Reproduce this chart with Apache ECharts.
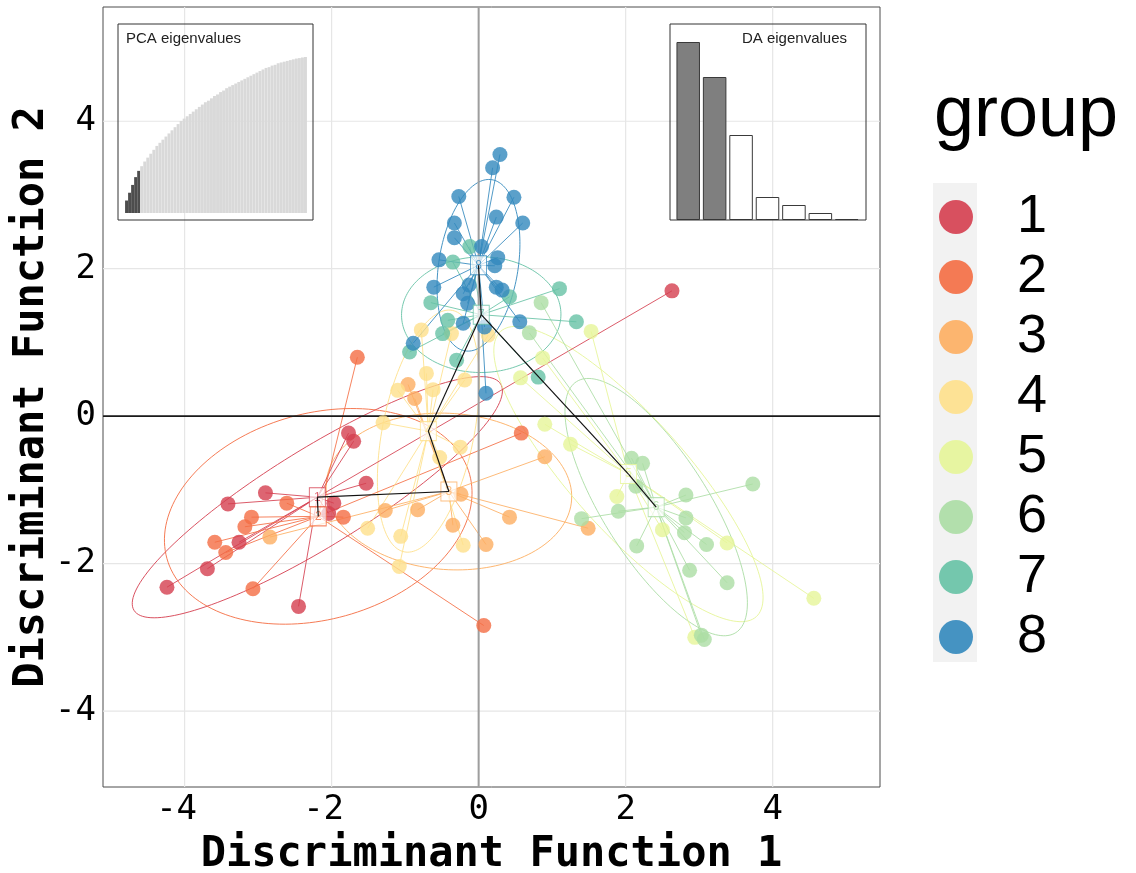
<!DOCTYPE html>
<html>
<head>
<meta charset="utf-8">
<script src="https://cdn.jsdelivr.net/npm/echarts@6/dist/echarts.min.js"></script>
<style>
  html, body { margin: 0; padding: 0; background: #ffffff; }
  #chart { width: 1136px; height: 873px; }
</style>
</head>
<body>
<div id="chart"></div>
<script>
// ---- data -------------------------------------------------------------
const groups = ['1', '2', '3', '4', '5', '6', '7', '8'];
const groupColors = ['#D53E4F', '#F46D43', '#FDAE61', '#FEE08B', '#E6F598', '#ABDDA4', '#66C2A5', '#3288BD'];

// individual scores on discriminant functions 1 and 2, one list per group
const group1 = [[2.63, 1.70], [-1.77, -0.23], [-1.70, -0.34], [-1.53, -0.91], [-2.90, -1.04], [-3.41, -1.19],
  [-1.97, -1.18], [-2.04, -1.32], [-3.26, -1.71], [-3.69, -2.07], [-4.24, -2.32], [-2.45, -2.58]];
const group2 = [[-1.65, 0.80], [0.58, -0.23], [-2.61, -1.18], [-1.84, -1.37], [-3.09, -1.37], [-3.18, -1.50],
  [-3.59, -1.71], [-3.44, -1.85], [-3.07, -2.34], [0.07, -2.84]];
const group3 = [[-0.96, 0.43], [-0.87, 0.24], [0.90, -0.55], [-0.24, -1.06], [-1.27, -1.28], [-0.83, -1.27],
  [0.42, -1.37], [-0.35, -1.48], [0.10, -1.74], [1.49, -1.52], [-2.84, -1.64]];
const group4 = [[-0.78, 1.17], [-0.37, 1.12], [0.13, 1.10], [-0.71, 0.58], [-0.19, 0.49], [-1.10, 0.35],
  [-0.62, 0.36], [-1.30, -0.09], [-0.25, -0.42], [-0.53, -0.56], [-1.51, -1.52], [-1.06, -1.63],
  [-0.21, -1.75], [-1.08, -2.04]];
const group5 = [[1.53, 1.15], [0.87, 0.79], [0.57, 0.52], [0.90, -0.11], [1.25, -0.38], [1.88, -1.09],
  [2.50, -1.54], [3.38, -1.72], [4.56, -2.47], [2.94, -3.00]];
const group6 = [[0.85, 1.54], [0.69, 1.13], [2.08, -0.57], [2.23, -0.64], [2.14, -0.95], [3.73, -0.92],
  [2.82, -1.07], [1.90, -1.29], [1.40, -1.39], [2.82, -1.38], [2.80, -1.58], [3.10, -1.74],
  [2.15, -1.76], [2.87, -2.09], [3.38, -2.26], [3.07, -3.03], [3.03, -2.97]];
const group7 = [[-0.12, 2.30], [-0.35, 2.09], [1.10, 1.73], [-0.65, 1.54], [0.42, 1.62], [1.33, 1.28],
  [-0.42, 1.30], [-0.49, 1.12], [-0.94, 0.87], [-0.30, 0.76], [0.81, 0.53]];
const group8 = [[0.29, 3.55], [0.19, 3.37], [-0.27, 2.98], [0.48, 2.97], [0.24, 2.70], [-0.33, 2.62],
  [0.60, 2.62], [-0.33, 2.42], [0.04, 2.30], [-0.54, 2.12], [0.26, 2.15], [0.22, 2.04],
  [-0.61, 1.75], [-0.13, 1.78], [-0.21, 1.66], [-0.15, 1.53], [0.24, 1.75], [0.32, 1.71],
  [0.56, 1.28], [-0.21, 1.26], [0.08, 1.21], [-0.89, 0.99], [0.10, 0.31]];
const groupPoints = [group1, group2, group3, group4, group5, group6, group7, group8];

// minimum spanning tree between group centroids (1-based group ids)
const mstEdges = [[1, 2], [1, 3], [3, 4], [4, 7], [7, 5], [5, 6], [7, 8]];

// axes
const tickValues = [-4, -2, 0, 2, 4];
const xRange = [-5.11, 5.46];
const yRange = [-5.03, 5.55];

// inset: cumulated variance of retained / discarded PCs
const pcaCumVar = [8, 13, 18, 23, 27, 30, 33, 35.5, 38, 40.5, 43, 45, 47, 49, 51, 53, 55, 57, 59, 60.5,
  62, 63.5, 65, 66.5, 68, 69.5, 71, 72, 73.5, 75, 76, 77.5, 78.5, 80, 81, 82, 83, 84, 85, 86,
  87, 88, 89, 90, 91, 92, 93, 93.5, 94.5, 95, 96, 96.5, 97, 97.5, 98, 98.5, 99, 99.3, 99.7, 100];
const pcaRetained = 5;
// inset: discriminant analysis eigenvalues
const daEigenvalues = [178, 143, 85, 23, 15, 7, 1];
const daRetained = 2;

// ---- helpers ----------------------------------------------------------
const ELLIPSE_SCALE = 1.5;

function groupStats(pts) {
  const n = pts.length;
  let mx = 0, my = 0;
  pts.forEach(p => { mx += p[0]; my += p[1]; });
  mx /= n; my /= n;
  let vx = 0, vy = 0, cxy = 0;
  pts.forEach(p => {
    const dx = p[0] - mx, dy = p[1] - my;
    vx += dx * dx; vy += dy * dy; cxy += dx * dy;
  });
  vx /= n; vy /= n; cxy /= n;
  const tr = vx + vy, det = vx * vy - cxy * cxy;
  const disc = Math.sqrt(Math.max(tr * tr / 4 - det, 0));
  const l1 = tr / 2 + disc, l2 = Math.max(tr / 2 - disc, 0);
  let theta;
  if (Math.abs(cxy) < 1e-12) theta = vx >= vy ? 0 : Math.PI / 2;
  else theta = Math.atan2(l1 - vx, cxy);
  return { mx, my, a: ELLIPSE_SCALE * Math.sqrt(l1), b: ELLIPSE_SCALE * Math.sqrt(l2), theta };
}

const stats = groupPoints.map(groupStats);
const centroids = stats.map(s => [s.mx, s.my]);

// ---- chart ------------------------------------------------------------
const chart = echarts.init(document.getElementById('chart'), null, { renderer: 'canvas' });
const monoFont = 'DejaVu Sans Mono';
const sansFont = 'Liberation Sans, Arial, sans-serif';

const series = [];

// reference grid lines
series.push({
  type: 'custom', name: 'gridlines', xAxisIndex: 0, yAxisIndex: 0, z: 1, silent: true,
  data: tickValues.map(v => [v, v]),
  renderItem(params, api) {
    const cs = params.coordSys;
    const v = api.value(0);
    const px = api.coord([v, 0])[0];
    const py = api.coord([0, v])[1];
    const style = { stroke: '#e6e6e6', lineWidth: 1.2 };
    return {
      type: 'group', children: [
        { type: 'line', shape: { x1: px, y1: cs.y, x2: px, y2: cs.y + cs.height }, style },
        { type: 'line', shape: { x1: cs.x, y1: py, x2: cs.x + cs.width, y2: py }, style }
      ]
    };
  }
});

// inertia ellipses
series.push({
  type: 'custom', name: 'ellipses', xAxisIndex: 0, yAxisIndex: 0, z: 2, silent: true,
  data: groups.map((g, i) => [i, 0]),
  renderItem(params, api) {
    const gi = api.value(0);
    const s = stats[gi];
    const pts = [];
    const steps = 160;
    for (let k = 0; k <= steps; k++) {
      const t = 2 * Math.PI * k / steps;
      const dx = s.a * Math.cos(t), dy = s.b * Math.sin(t);
      const x = s.mx + dx * Math.cos(s.theta) - dy * Math.sin(s.theta);
      const y = s.my + dx * Math.sin(s.theta) + dy * Math.cos(s.theta);
      pts.push(api.coord([x, y]));
    }
    return { type: 'polyline', shape: { points: pts }, style: { stroke: groupColors[gi], lineWidth: 1, fill: null, opacity: 0.9 } };
  }
});

// stars: centroid to each individual
series.push({
  type: 'custom', name: 'stars', xAxisIndex: 0, yAxisIndex: 0, z: 3, silent: true,
  data: groups.map((g, i) => [i, 0]),
  renderItem(params, api) {
    const gi = api.value(0);
    const c = api.coord(centroids[gi]);
    return {
      type: 'group',
      children: groupPoints[gi].map(p => {
        const q = api.coord(p);
        return { type: 'line', shape: { x1: c[0], y1: c[1], x2: q[0], y2: q[1] }, style: { stroke: groupColors[gi], lineWidth: 1, opacity: 0.85 } };
      })
    };
  }
});

// zero axes
series.push({
  type: 'custom', name: 'zero', xAxisIndex: 0, yAxisIndex: 0, z: 4, silent: true,
  data: [[0, 0]],
  renderItem(params, api) {
    const cs = params.coordSys;
    const o = api.coord([0, 0]);
    return {
      type: 'group', children: [
        { type: 'line', shape: { x1: o[0], y1: cs.y, x2: o[0], y2: cs.y + cs.height }, style: { stroke: '#9e9e9e', lineWidth: 2 } },
        { type: 'line', shape: { x1: cs.x, y1: o[1], x2: cs.x + cs.width, y2: o[1] }, style: { stroke: '#1a1a1a', lineWidth: 1.6 } }
      ]
    };
  }
});

// individuals
groups.forEach((g, i) => {
  series.push({
    type: 'scatter', name: g, xAxisIndex: 0, yAxisIndex: 0, z: 5,
    data: groupPoints[i], symbol: 'circle', symbolSize: 15,
    itemStyle: { color: groupColors[i], opacity: 0.8 }
  });
});

// centroid labels
series.push({
  type: 'scatter', name: 'centroids', xAxisIndex: 0, yAxisIndex: 0, z: 6, silent: true,
  symbol: 'rect', symbolSize: [16, 19],
  data: groups.map((g, i) => ({
    value: centroids[i],
    itemStyle: { color: 'rgba(255,255,255,0.85)', borderColor: groupColors[i], borderWidth: 1 },
    label: { color: groupColors[i] }
  })),
  label: { show: true, position: 'inside', formatter: p => groups[p.dataIndex], fontSize: 12, fontFamily: sansFont }
});

// minimum spanning tree
series.push({
  type: 'custom', name: 'mst', xAxisIndex: 0, yAxisIndex: 0, z: 7, silent: true,
  data: mstEdges.map(e => [e[0], e[1]]),
  renderItem(params, api) {
    const a = api.coord(centroids[api.value(0) - 1]);
    const b = api.coord(centroids[api.value(1) - 1]);
    return { type: 'line', shape: { x1: a[0], y1: a[1], x2: b[0], y2: b[1] }, style: { stroke: '#111', lineWidth: 1.2 } };
  }
});

// PCA eigenvalue inset
series.push({
  type: 'bar', name: 'PCA', xAxisIndex: 1, yAxisIndex: 1, z: 8, silent: true,
  data: pcaCumVar, barCategoryGap: '4%',
  itemStyle: { color: p => (p.dataIndex < pcaRetained ? '#4d4d4d' : '#d9d9d9') }
});

// DA eigenvalue inset
series.push({
  type: 'bar', name: 'DA', xAxisIndex: 2, yAxisIndex: 2, z: 8, silent: true,
  data: daEigenvalues, barCategoryGap: '11%',
  itemStyle: {
    color: p => (p.dataIndex < daRetained ? '#7f7f7f' : '#ffffff'),
    borderColor: '#3a3a3a', borderWidth: 1
  }
});

// legend drawn as graphic elements
const legendGraphics = [
  { type: 'rect', shape: { x: 933, y: 183, width: 44, height: 479 }, style: { fill: '#f2f2f2' }, z: 10 },
  { type: 'text', x: 934, y: 116, style: { text: 'group', font: '72px ' + sansFont, fill: '#000', verticalAlign: 'middle', textAlign: 'left' }, z: 10 }
];
groups.forEach((g, i) => {
  const cy = 217 + i * 60;
  legendGraphics.push({ type: 'circle', shape: { cx: 956, cy, r: 17 }, style: { fill: groupColors[i], opacity: 0.9 }, z: 11 });
  legendGraphics.push({ type: 'text', x: 1017, y: cy, style: { text: g, font: '54px ' + sansFont, fill: '#000', verticalAlign: 'middle', textAlign: 'left' }, z: 11 });
});

// tick labels: negative values sit slightly left of their grid line
const tickRich = { neg: { fontFamily: monoFont, fontSize: 34, color: '#000', padding: [0, 16, 0, 0] } };
const xTickFormatter = v => (v < 0 ? '{neg|' + v + '}' : String(v));

const option = {
  backgroundColor: '#ffffff',
  animation: false,
  grid: [
    { left: 103, top: 7, width: 777, height: 780, show: true, borderColor: '#4d4d4d', borderWidth: 1, backgroundColor: 'transparent', containLabel: false, outerBoundsMode: 'none' },
    { left: 125, top: 57, width: 182, height: 156, containLabel: false, outerBoundsMode: 'none' },
    { left: 675, top: 42, width: 185, height: 178, containLabel: false, outerBoundsMode: 'none' }
  ],
  xAxis: [
    {
      gridIndex: 0, type: 'value', min: xRange[0], max: xRange[1],
      splitLine: { show: false }, axisLine: { show: false }, axisTick: { show: false },
      axisLabel: { customValues: tickValues, formatter: xTickFormatter, rich: tickRich, fontFamily: monoFont, fontSize: 34, color: '#000', margin: 6 },
      name: 'Discriminant Function 1', nameLocation: 'middle', nameGap: 47, nameMoveOverlap: false,
      nameTextStyle: { fontFamily: monoFont, fontWeight: 'bold', fontSize: 42, color: '#000' }
    },
    { gridIndex: 1, type: 'category', data: pcaCumVar.map((v, i) => i + 1), show: false },
    { gridIndex: 2, type: 'category', data: daEigenvalues.map((v, i) => i + 1), show: false }
  ],
  yAxis: [
    {
      gridIndex: 0, type: 'value', min: yRange[0], max: yRange[1],
      splitLine: { show: false }, axisLine: { show: false }, axisTick: { show: false },
      axisLabel: { customValues: tickValues, fontFamily: monoFont, fontSize: 34, color: '#000', margin: 7 },
      name: 'Discriminant Function 2', nameLocation: 'middle', nameGap: 50, nameRotate: 90, nameMoveOverlap: false,
      nameTextStyle: { fontFamily: monoFont, fontWeight: 'bold', fontSize: 42, color: '#000' }
    },
    { gridIndex: 1, type: 'value', min: 0, max: 'dataMax', show: false },
    { gridIndex: 2, type: 'value', min: 0, max: 'dataMax', show: false }
  ],
  graphic: [
    { type: 'rect', shape: { x: 118, y: 24, width: 195, height: 196 }, style: { fill: null, stroke: '#333', lineWidth: 1 }, z: 9, silent: true },
    { type: 'text', x: 126, y: 39, style: { text: 'PCA eigenvalues', font: '15px ' + sansFont, fill: '#222', verticalAlign: 'middle' }, z: 9 },
    { type: 'rect', shape: { x: 670, y: 24, width: 196, height: 196 }, style: { fill: null, stroke: '#333', lineWidth: 1 }, z: 9, silent: true },
    { type: 'text', x: 847, y: 39, style: { text: 'DA eigenvalues', font: '15px ' + sansFont, fill: '#222', verticalAlign: 'middle', textAlign: 'right' }, z: 9 }
  ].concat(legendGraphics),
  series
};

chart.setOption(option);
</script>
</body>
</html>
